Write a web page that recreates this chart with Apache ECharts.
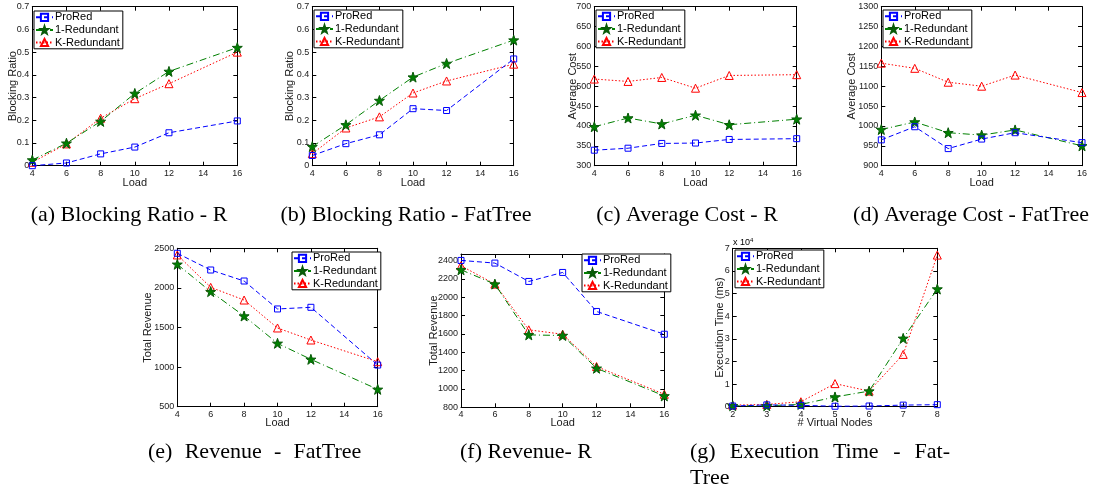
<!DOCTYPE html>
<html><head><meta charset="utf-8">
<script src="https://cdn.jsdelivr.net/npm/echarts@6/dist/echarts.min.js"></script>
<style>html,body{margin:0;padding:0;background:#fff}#c{width:1094px;height:491px}</style>
</head><body><div id="c"></div>
<script>
// ---- data ----
const seriesNames = ['ProRed', '1-Redundant', 'K-Redundant'];
const loads = [4, 6, 8, 10, 12, 16];
const vnodes = [2, 3, 4, 5, 6, 7, 8];

const blockR_ProRed = [0.0, 0.012, 0.052, 0.082, 0.145, 0.197];
const blockR_1Red   = [0.025, 0.099, 0.195, 0.318, 0.415, 0.52];
const blockR_KRed   = [0.015, 0.096, 0.209, 0.295, 0.361, 0.5];

const blockFT_ProRed = [0.045, 0.097, 0.136, 0.251, 0.243, 0.47];
const blockFT_1Red   = [0.084, 0.18, 0.287, 0.39, 0.45, 0.553];
const blockFT_KRed   = [0.053, 0.166, 0.215, 0.32, 0.373, 0.447];

const costR_ProRed = [339, 344, 356, 357, 366, 368];
const costR_1Red   = [398, 420, 405, 427, 403, 417];
const costR_KRed   = [518, 512, 522, 495, 527, 529];

const costFT_ProRed = [965, 998, 943, 967, 983, 958];
const costFT_1Red   = [991, 1010, 983, 977, 990, 950];
const costFT_KRed   = [1158, 1145, 1110, 1100, 1128, 1084];

const revFT_ProRed = [2437, 2226, 2087, 1734, 1755, 1026];
const revFT_1Red   = [2298, 1953, 1645, 1300, 1098, 719];
const revFT_KRed   = [2416, 2007, 1847, 1494, 1342, 1068];

const revR_ProRed = [2400, 2371, 2171, 2269, 1844, 1596];
const revR_1Red   = [2298, 2142, 1589, 1582, 1225, 924];
const revR_KRed   = [2342, 2142, 1644, 1596, 1244, 942];

const execFT_ProRed = [300, 800, 600, 200, 300, 700, 900];
const execFT_1Red   = [400, 400, 1000, 4300, 6900, 30200, 52000];
const execFT_KRed   = [700, 1000, 2200, 10200, 6900, 23100, 67000];

const captions = ['(a) Blocking Ratio - R', '(b) Blocking Ratio - FatTree', '(c) Average Cost - R',
  '(d) Average Cost - FatTree', '(f) Revenue- R'];
const captionE = ['(e)', 'Revenue', '-', 'FatTree'];
const captionG1 = ['(g)', 'Execution', 'Time', '-', 'Fat-'];
const captionG2 = 'Tree';

// ---- layout ----
const panels = [
  {L:32.3, T:6.7, R:237.3, B:165.7, x:loads, ys:[blockR_ProRed, blockR_1Red, blockR_KRed], xr:[4,16,2], yr:[0,0.7,0.1], xn:'Load', xg:11.5, yn:'Blocking Ratio', yg:14, lg:[34,11]},
  {L:312.3, T:6.7, R:513.7, B:165.7, x:loads, ys:[blockFT_ProRed, blockFT_1Red, blockFT_KRed], xr:[4,16,2], yr:[0,0.7,0.1], xn:'Load', xg:11.5, yn:'Blocking Ratio', yg:16.5, lg:[314,10]},
  {L:594.3, T:6.7, R:796.7, B:165.7, x:loads, ys:[costR_ProRed, costR_1Red, costR_KRed], xr:[4,16,2], yr:[300,700,50], xn:'Load', xg:11.5, yn:'Average Cost', yg:16, lg:[596,10]},
  {L:881.3, T:6.7, R:1082, B:165.7, x:loads, ys:[costFT_ProRed, costFT_1Red, costFT_KRed], xr:[4,16,2], yr:[900,1300,50], xn:'Load', xg:11.5, yn:'Average Cost', yg:23.5, lg:[883,10]},
  {L:177.3, T:248.3, R:377.7, B:406.7, x:loads, ys:[revFT_ProRed, revFT_1Red, revFT_KRed], xr:[4,16,2], yr:[500,2500,500], xn:'Load', xg:10.5, yn:'Total Revenue', yg:23.5, lg:[292,252]},
  {L:461, T:254, R:664.3, B:407.3, x:loads, ys:[revR_ProRed, revR_1Red, revR_KRed], xr:[4,16,2], yr:[800,2470,200], xn:'Load', xg:10, yn:'Total Revenue', yg:22, lg:[582,254], hideMax:true},
  {L:732.7, T:248.3, R:937.3, B:406.7, x:vnodes, ys:[execFT_ProRed, execFT_1Red, execFT_KRed], xr:[2,8,1], yr:[0,70000,10000], xn:'# Virtual Nodes', xg:11, yn:'Execution Time (ms)', yg:7, lg:[735,250], fmt:v=>String(v/10000)}
];

const colors = ['#0000ff', '#008000', '#ff0000'];
const dashes = [[5,3], [7,3,1,3], [1.5,2]];
const starPath = 'path://M0,-10L2.35,-3.24L9.51,-3.09L3.8,1.24L5.88,8.09L0,4L-5.88,8.09L-3.8,1.24L-9.51,-3.09L-2.35,-3.24Z';
const symbols = ['rect', starPath, 'triangle'];
const symSizes = [6, 10, 8];
const textCol = '#1a1a1a';
const FONT = 'Liberation Sans';
const numFmt = v => String(Math.round(v * 1000) / 1000);

const grid = [], xAxis = [], yAxis = [], series = [], legend = [], graphic = [];

panels.forEach((p, i) => {
  grid.push({left:p.L, top:p.T, width:p.R-p.L, height:p.B-p.T, containLabel:false});
  const tick = {show:true, inside:true, length:4, lineStyle:{color:'#000', width:1}};
  const line = {show:true, onZero:false, lineStyle:{color:'#000', width:1}};
  const lab = {color:textCol, fontSize:9, fontFamily:FONT};
  xAxis.push({type:'value', gridIndex:i, position:'bottom', min:p.xr[0], max:p.xr[1], interval:p.xr[2],
    axisLine:line, axisTick:tick, splitLine:{show:false}, axisLabel:Object.assign({margin:3, formatter:numFmt}, lab),
    name:p.xn, nameLocation:'middle', nameGap:p.xg, nameMoveOverlap:false, nameTextStyle:{color:textCol, fontSize:11, fontFamily:FONT}});
  xAxis.push({type:'value', gridIndex:i, position:'top', min:p.xr[0], max:p.xr[1], interval:p.xr[2],
    axisLine:line, axisTick:tick, splitLine:{show:false}, axisLabel:{show:false}});
  yAxis.push({type:'value', gridIndex:i, position:'left', min:p.yr[0], max:p.yr[1], interval:p.yr[2],
    axisLine:line, axisTick:tick, splitLine:{show:false},
    axisLabel:Object.assign({margin:3, showMaxLabel:!p.hideMax, formatter:p.fmt || numFmt}, lab),
    name:p.yn, nameLocation:'middle', nameGap:p.yg, nameRotate:90, nameMoveOverlap:false, nameTextStyle:{color:textCol, fontSize:11, fontFamily:FONT}});
  yAxis.push({type:'value', gridIndex:i, position:'right', min:p.yr[0], max:p.yr[1], interval:p.yr[2],
    axisLine:line, axisTick:tick, splitLine:{show:false}, axisLabel:{show:false}});
  p.ys.forEach((vals, s) => {
    series.push({type:'line', name:seriesNames[s], xAxisIndex:2*i, yAxisIndex:2*i,
      data:p.x.map((xv, k) => [xv, vals[k]]),
      symbol:symbols[s], symbolSize:symSizes[s], showAllSymbol:true, animation:false,
      lineStyle:{color:colors[s], width:1, type:dashes[s]},
      itemStyle:{color: s===1 ? colors[1] : 'rgba(255,255,255,0)', borderColor: s===1 ? '#0a5a0a' : colors[s], borderWidth:1},
      z: 3 + (2 - s)});
  });
  legend.push({data:seriesNames, orient:'vertical', left:p.lg[0], top:p.lg[1], itemGap:0, itemWidth:17, itemHeight:9,
    padding:[0,3,0,1], borderColor:'#000', borderWidth:1, backgroundColor:'#fff', selectedMode:false,
    textStyle:{color:'#000', fontSize:11, lineHeight:12.6, fontFamily:FONT, padding:[0,0,0,-3]}, z:10});
});

// captions
const capFont = '22px "Liberation Serif"';
const capPos = [[129,215],[406,215],[687,215],[971,215],[526,452]];
captions.forEach((c, i) => {
  graphic.push({type:'text', x:capPos[i][0], y:capPos[i][1], style:{text:c, font:capFont, fill:'#000', textAlign:'center', textVerticalAlign:'middle'}});
});
[148, 184.7, 274, 293.6].forEach((x, k) => graphic.push({type:'text', x:x, y:452, style:{text:captionE[k], font:capFont, fill:'#000', textVerticalAlign:'middle'}}));
[690, 729.7, 832.9, 893.3, 914.6].forEach((x, k) => graphic.push({type:'text', x:x, y:452, style:{text:captionG1[k], font:capFont, fill:'#000', textVerticalAlign:'middle'}}));
graphic.push({type:'text', x:690, y:478, style:{text:captionG2, font:capFont, fill:'#000', textVerticalAlign:'middle'}});
graphic.push({type:'text', x:733, y:237, style:{text:'{a|x 10}{b|4}', rich:{a:{fontSize:9, fontFamily:FONT, color:textCol}, b:{fontSize:6, fontFamily:FONT, color:textCol, verticalAlign:'top', padding:[0,0,6,0]}}}});

const chart = echarts.init(document.getElementById('c'), null, {renderer:'canvas'});
chart.setOption({animation:false, backgroundColor:'#fff', grid, xAxis, yAxis, series, legend, graphic});
</script></body></html>
